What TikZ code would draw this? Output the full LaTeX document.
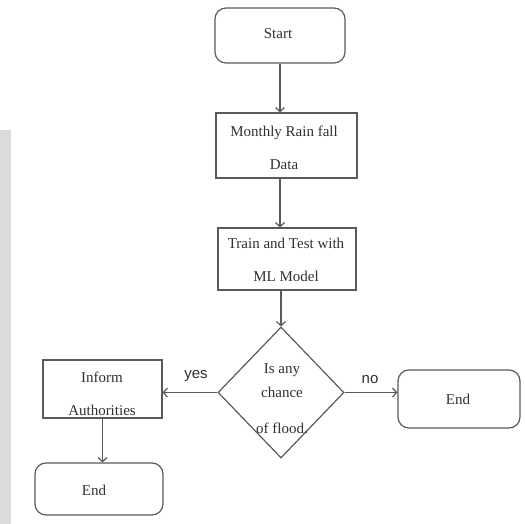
\documentclass[tikz,border=0pt]{standalone}
\usepackage{fontspec}
\setmainfont{Liberation Serif}
\newfontfamily\labelfont{Liberation Sans}
\usetikzlibrary{shapes.geometric,arrows.meta}
\definecolor{linec}{HTML}{5A5A5A}
\definecolor{textc}{HTML}{303030}
\begin{document}
\begin{tikzpicture}[x=1pt,y=-1pt,
  every node/.style={text=textc},
  boxtxt/.style={font=\fontsize{15}{33}\selectfont, align=center, inner sep=0pt},
  procbox/.style={draw=linec, line width=1.2pt, boxtxt},
  termbox/.style={draw=linec, line width=1.2pt, rounded corners=11pt, boxtxt},
  flow/.style={draw=linec, line width=1.2pt, -{Straight Barb[length=4pt,width=9pt]}},
  lbl/.style={font=\labelfont\fontsize{15}{15}\selectfont, inner sep=0pt}]
\useasboundingbox (0,0) rectangle (525,524);
\fill[gray!28] (0,130) rectangle (11,524);
\node[termbox, minimum width=130pt, minimum height=55pt] (start) at (280,35.5) {};
\node[boxtxt] (starttext) at (278,34) {Start};
\node[procbox, minimum width=141pt, minimum height=65pt] (mrd) at (286.5,145.5) {};
\node[boxtxt] (mrdtext) at (284,148) {Monthly Rain fall\\Data};
\node[procbox, minimum width=138pt, minimum height=62pt] (train) at (287,259) {};
\node[boxtxt] (traintext) at (286,260) {Train and Test with\\ML Model};
\node[diamond, draw=linec, line width=1.2pt, minimum width=126pt, minimum height=131pt, inner sep=0pt] (dec) at (281,392.5) {};
\node[boxtxt, font=\fontsize{15}{28}\selectfont] (dectext) at (282,399) {Is any\\[-4pt]chance\\[8pt]of flood.};
\node[procbox, minimum width=119pt, minimum height=58pt] (inform) at (102.5,389) {};
\node[boxtxt] (informtext) at (102,393.5) {Inform\\Authorities};
\node[termbox, minimum width=128pt, minimum height=52pt] (endl) at (99,489) {};
\node[boxtxt] (endltext) at (94,490) {End};
\node[termbox, minimum width=122pt, minimum height=58pt] (endr) at (459,399) {};
\node[boxtxt] (endrtext) at (458,399) {End};
\draw[flow] (start.south) -- (start.south |- mrd.north);
\draw[flow] (start.south |- mrd.south) -- (start.south |- train.north);
\draw[flow] (dec.north |- train.south) -- (dec.north);
\draw[flow] (dec.west) -- (dec.west -| inform.east);
\draw[flow] (dec.east) -- (dec.east -| endr.west);
\draw[flow] (inform.south) -- (inform.south |- endl.north);
\node[lbl] (yes) at (196,376) {yes};
\node[lbl] (no) at (370,380) {no};
\end{tikzpicture}
\end{document}
